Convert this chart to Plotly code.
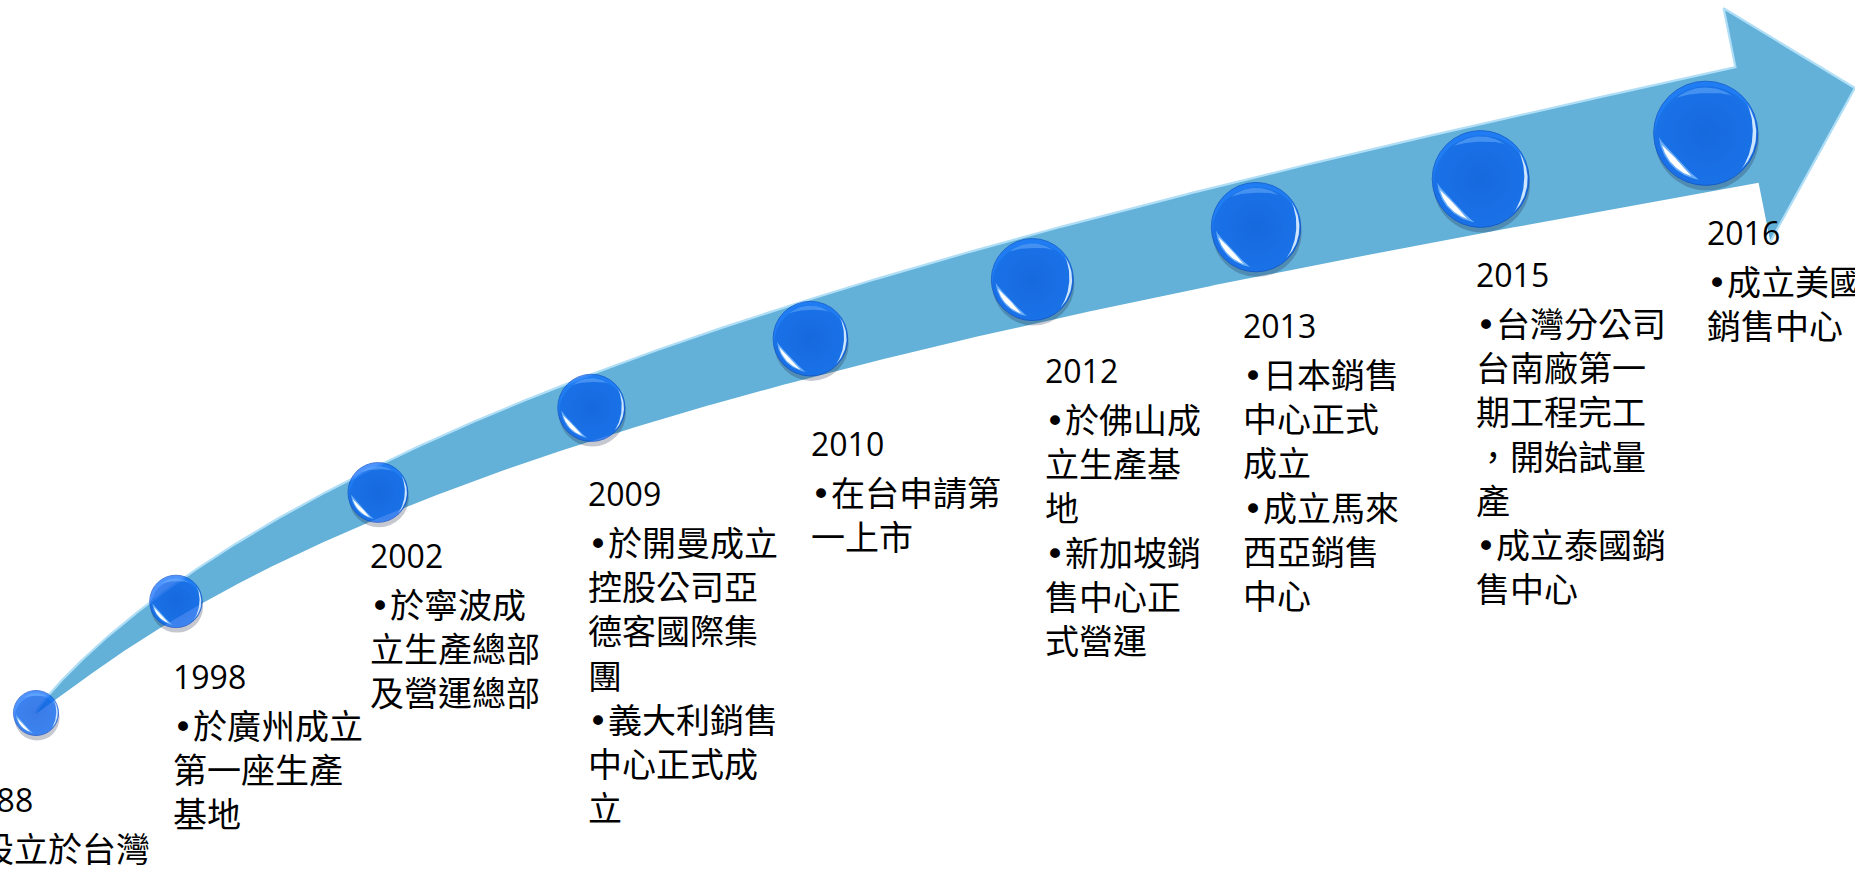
import numpy as np
import plotly.graph_objects as go

# ---------------- data ----------------
years = ["1988", "1998", "2002", "2009", "2010", "2012", "2013", "2015", "2016"]
milestones = [
    ["•設立於台灣"],
    ["•於廣州成立", "第一座生產", "基地"],
    ["•於寧波成", "立生產總部", "及營運總部"],
    ["•於開曼成立", "控股公司亞", "德客國際集", "團", "•義大利銷售", "中心正式成", "立"],
    ["•在台申請第", "一上市"],
    ["•於佛山成", "立生產基", "地", "•新加坡銷", "售中心正", "式營運"],
    ["•日本銷售", "中心正式", "成立", "•成立馬來", "西亞銷售", "中心"],
    ["•台灣分公司", "台南廠第一", "期工程完工", "，開始試量", "產", "•成立泰國銷", "售中心"],
    ["•成立美國", "銷售中心"],
]

# ---------------- layout geometry (pixels) ----------------
W, H = 1855, 879
CTRL = np.array([[36, 713], [336, 413], [1047, 265], [1747, 125]], dtype=float)
BAND_MAX, BAND_POW = 118.0, 0.6
HEAD_HALF, HEAD_LEN, HEAD_TILT = 119.0, 114.0, np.radians(-7.6)
BALL_START, BALL_END = 0.098, 0.977
R0, DR = 22.5, 3.7
LABEL_DX = [-78, -5, -10, -5, -1, 11, -15, -7, -1]
LABEL_DY = [86, 75, 63.5, 85.5, 104.5, 90.5, 98.5, 95, 99.5]
BODY_GAP = 21.5

BAND_COLOR = "#63B0D8"
EDGE_COLOR = "rgba(175,222,246,1)"
BALL_COLOR = "rgb(4,104,255)"
BULLET = '<span style="font-family:DejaVu Sans">•</span>'


def bez(t):
    t = np.asarray(t, float)[:, None]
    c0, c1, c2, c3 = CTRL
    return (1 - t) ** 3 * c0 + 3 * (1 - t) ** 2 * t * c1 + 3 * (1 - t) * t ** 2 * c2 + t ** 3 * c3


def dbez(t):
    t = np.asarray(t, float)[:, None]
    c0, c1, c2, c3 = CTRL
    return 3 * (1 - t) ** 2 * (c1 - c0) + 6 * (1 - t) * t * (c2 - c1) + 3 * t ** 2 * (c3 - c2)


tt = np.linspace(0, 1, 800)
pts = bez(tt)
der = dbez(tt)
tan = der / np.linalg.norm(der, axis=1)[:, None]
nrm = np.column_stack([-tan[:, 1], tan[:, 0]])
seg = np.r_[0, np.linalg.norm(np.diff(pts, axis=0), axis=1)]
arc = np.cumsum(seg)
S = arc[-1]
half = 0.5 * BAND_MAX * (arc / S) ** BAND_POW
top = pts - nrm * half[:, None]
bot = pts + nrm * half[:, None]

end = pts[-1]
n_end = nrm[-1]
ang = np.arctan2(tan[-1, 1], tan[-1, 0]) + HEAD_TILT
corner_top = end - HEAD_HALF * n_end
corner_bot = end + HEAD_HALF * n_end
tip = end + HEAD_LEN * np.array([np.cos(ang), np.sin(ang)])

poly_x = np.r_[top[:, 0], corner_top[0], tip[0], corner_bot[0], bot[::-1, 0]]
poly_y = np.r_[top[:, 1], corner_top[1], tip[1], corner_bot[1], bot[::-1, 1]]

fig = go.Figure()
fig.add_trace(go.Scatter(x=poly_x, y=poly_y, fill="toself", fillcolor=BAND_COLOR,
                         mode="lines", line=dict(width=0), hoverinfo="skip"))
edge_x = np.r_[top[:, 0], corner_top[0], tip[0], corner_bot[0]]
edge_y = np.r_[top[:, 1], corner_top[1], tip[1], corner_bot[1]]
fig.add_trace(go.Scatter(x=edge_x, y=edge_y, mode="lines",
                         line=dict(color=EDGE_COLOR, width=2.2), hoverinfo="skip"))

# ---------------- balls ----------------
n = len(years)
fracs = np.r_[0.0, np.linspace(BALL_START, BALL_END, n - 1)]
t_ball = np.interp(fracs * S, arc, tt)
bxy = bez(t_ball)
bx, by = bxy[:, 0], bxy[:, 1]
radii = R0 + DR * np.arange(n)

fig.add_trace(go.Scatter(x=bx + 1, y=by + 5, mode="markers", hoverinfo="skip",
                         marker=dict(size=2 * radii, color="rgba(20,30,60,0.35)", line=dict(width=0))))
fig.add_trace(go.Scatter(x=bx, y=by, mode="markers", hoverinfo="skip",
                         marker=dict(size=2 * radii, color=BALL_COLOR,
                                     gradient=dict(type="radial", color="rgb(0,90,240)"),
                                     line=dict(color="rgb(0,72,205)", width=1))))


def crescent(cx, cy, r, a1, a2, ro, th, k=40):
    a = np.radians(np.linspace(a1, a2, k))
    rin = ro * r - th * r * np.sin(np.pi * np.linspace(0, 1, k))
    xo = cx + ro * r * np.cos(a)
    yo = cy - ro * r * np.sin(a)
    xi = cx + rin[::-1] * np.cos(a[::-1])
    yi = cy - rin[::-1] * np.sin(a[::-1])
    return list(np.r_[xo, xi, xo[0]]) + [None], list(np.r_[yo, yi, yo[0]]) + [None]


def add_crescents(a1, a2, ro, th, color):
    xs, ys = [], []
    for cx, cy, r in zip(bx, by, radii):
        cxs, cys = crescent(cx, cy, r, a1, a2, ro, th)
        xs += cxs
        ys += cys
    fig.add_trace(go.Scatter(x=xs, y=ys, mode="lines", fill="toself", fillcolor=color,
                             line=dict(width=0), hoverinfo="skip"))


add_crescents(55, 130, 0.88, 0.11, "rgba(120,185,255,0.45)")   # top soft glow
add_crescents(-45, 35, 0.97, 0.07, "rgba(225,242,255,0.9)")     # right rim
add_crescents(185, 262, 0.90, 0.18, "rgba(140,200,255,0.7)")    # lower-left glow
add_crescents(195, 252, 0.87, 0.12, "rgba(255,255,255,1)")      # lower-left highlight

# ---------------- labels ----------------
for i in range(n):
    body = "<br>".join(line.replace("•", BULLET) for line in milestones[i])
    fig.add_annotation(x=bx[i], y=by[i], xref="x", yref="y", text=years[i],
                       showarrow=False, xanchor="left", yanchor="middle",
                       xshift=LABEL_DX[i], yshift=-LABEL_DY[i],
                       font=dict(family="Open Sans", size=32, color="black"))
    fig.add_annotation(x=bx[i], y=by[i], xref="x", yref="y", text=body,
                       showarrow=False, xanchor="left", yanchor="top", align="left",
                       xshift=LABEL_DX[i], yshift=-(LABEL_DY[i] + BODY_GAP),
                       font=dict(family="Noto Sans CJK TC", size=34, color="black"))

fig.update_layout(
    width=W, height=H, autosize=False,
    margin=dict(l=0, r=0, t=0, b=0),
    paper_bgcolor="white", plot_bgcolor="white",
    showlegend=False,
    xaxis=dict(range=[0, W], visible=False, fixedrange=True),
    yaxis=dict(range=[H, 0], visible=False, fixedrange=True),
)

fig.write_html("out.html", config={"displayModeBar": False},
               post_script="document.body.style.margin='0px';document.body.style.overflow='hidden';")
